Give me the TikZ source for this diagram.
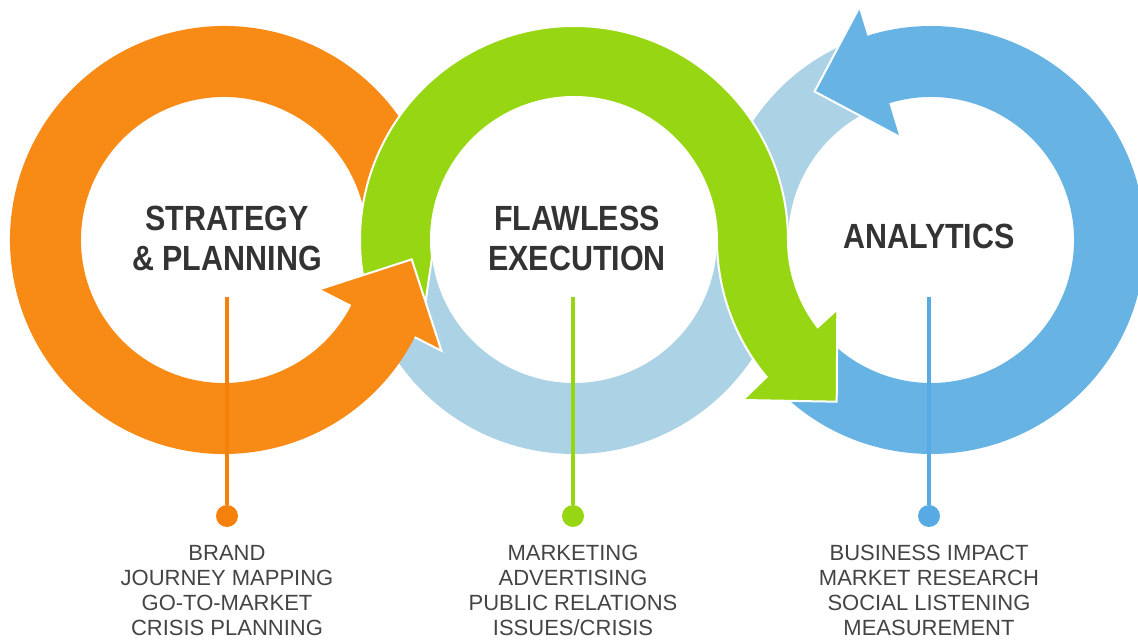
\documentclass[tikz,border=0pt]{standalone}
\usepackage{fontspec}
\setmainfont{Liberation Sans}
\newfontfamily\headfont[FakeStretch=0.87]{Liberation Sans}
\usepackage{tikz}
\usetikzlibrary{positioning}
\definecolor{stratOrange}{RGB}{247,139,22}
\definecolor{stratLine}{RGB}{245,128,10}
\definecolor{execGreen}{RGB}{151,214,18}
\definecolor{shadowBlue}{RGB}{172,210,230}
\definecolor{analyBlue}{RGB}{103,180,228}
\definecolor{analyLine}{RGB}{88,170,228}
\definecolor{titleGray}{RGB}{51,51,51}
\definecolor{listGray}{RGB}{68,68,68}

\begin{document}
\begin{tikzpicture}[x=1pt,y=1pt,
		title/.style={font=\headfont\fontsize{35}{40}\selectfont\bfseries, text=titleGray, align=center},
		items/.style={font=\fontsize{22}{25}\selectfont, text=listGray, align=center, inner sep=0pt},
		stem/.style={line width=4.5pt},
		dot/.style={circle, fill, minimum size=22pt, inner sep=0pt},
		edge/.style={draw=white, line width=2pt, line join=miter}]
		\useasboundingbox (0,0) rectangle (1138,640);
		\coordinate (O) at (224,400);
		\coordinate (G) at (574,400);
		\coordinate (B) at (931,400);
		% pale band behind the green one
		\fill[shadowBlue]([shift={(185:143)}]G)arc[start angle=185,end angle=360,radius=143]
			arc[start angle=180,end angle=110,radius=214]
			--([shift={(110:143)}]B)arc[start angle=110,end angle=180,radius=143]
			arc[start angle=0,end angle=-175,radius=214]--cycle;
		\fill[analyBlue]([shift={(222:214)}]B)arc[start angle=222,end angle=468,radius=214]
			--([shift={(108:143)}]B)arc[start angle=468,end angle=222,radius=143]--cycle;
		\fill[stratOrange]([shift={(11:214)}]O)arc[start angle=11,end angle=334,radius=214]
			--([shift={(334:143)}]O)arc[start angle=334,end angle=11,radius=143]--cycle;
		% green S arrow
		\filldraw[edge,fill=execGreen]([shift={(187:143)}]G)arc[start angle=187,end angle=0,radius=143]
			arc[start angle=180,end angle=219.8,radius=214]
			--(742.7,240)--(836.7,238.3)--(837.3,330.7)
			--([shift={(217.6:143)}]B)arc[start angle=217.6,end angle=180,radius=143]
			arc[start angle=0,end angle=197,radius=214]--(424,328)--cycle;
		% heads
		\fill[stratOrange]([shift={(-27:143)}]O)--([shift={(-27:108)}]O)--([shift={(-5.9:188.7)}]O)
			--([shift={(-27:244)}]O)--([shift={(-27:214)}]O)--cycle;
		\draw[edge]([shift={(-27:214)}]O)--([shift={(-27:244)}]O)--([shift={(-5.9:188.7)}]O)--([shift={(-27:108)}]O);
		\fill[analyBlue]([shift={(107:143)}]B)--([shift={(107:108)}]B)--([shift={(128.1:188.7)}]B)
			--([shift={(107:244)}]B)--([shift={(107:214)}]B)--cycle;
		\draw[edge]([shift={(107:214)}]B)--([shift={(107:244)}]B)--([shift={(128.1:188.7)}]B)--([shift={(107:108)}]B);
		% titles
		\node[title] (strat) at (227,402) {STRATEGY\\\& PLANNING};
		\node[title] (exec) at (577,402) {FLAWLESS\\EXECUTION};
		\node[title] (analy) at (929,404) {ANALYTICS};
		% stems, dots and lists
		\coordinate (stratTop) at (227,343);
		\coordinate (execTop) at (573,343);
		\coordinate (analyTop) at (929,343);
		\node[dot,fill=stratLine] (stratDot) at (227,124) {};
		\node[dot,fill=execGreen] (execDot) at (573,124) {};
		\node[dot,fill=analyLine] (analyDot) at (929,124) {};
		\draw[stem,stratLine](stratTop)--(stratDot);
		\draw[stem,execGreen](execTop)--(execDot);
		\draw[stem,analyLine](analyTop)--(analyDot);
		\node[items,below=18pt of stratDot] (stratList) {BRAND\\JOURNEY MAPPING\\GO-TO-MARKET\\CRISIS PLANNING};
		\node[items,below=18pt of execDot] (execList) {MARKETING\\ADVERTISING\\PUBLIC RELATIONS\\ISSUES/CRISIS};
		\node[items,below=18pt of analyDot] (analyList) {BUSINESS IMPACT\\MARKET RESEARCH\\SOCIAL LISTENING\\MEASUREMENT};
	\end{tikzpicture}
\end{document}
